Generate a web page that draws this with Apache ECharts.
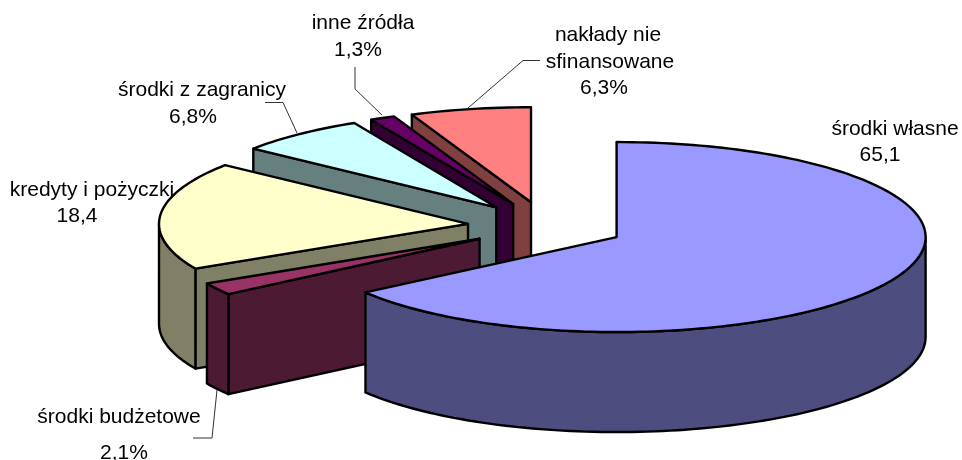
<!DOCTYPE html>
<html lang="pl">

<head>
  <meta charset="UTF-8">
  <title>Struktura finansowania</title>
  <script src="https://cdn.jsdelivr.net/npm/echarts@6/dist/echarts.min.js"></script>
  <style>
    html, body { margin: 0; background: #fff; }
    #chart { width: 962px; height: 460px; }
  </style>
</head>

<body>
  <div id="chart"></div>
  <script>
    // clockwise from 12 o'clock
    const categories = ['środki własne', 'środki budżetowe', 'kredyty i pożyczki', 'środki z zagranicy', 'inne źródła', 'nakłady nie sfinansowane']
    const values = [65.1, 2.1, 18.4, 6.8, 1.3, 6.3]
    const valueLabels = ['65,1', '2,1%', '18,4', '6,8%', '1,3%', '6,3%']
    const topColors = ['#9999FF', '#993366', '#FFFFCC', '#CCFFFF', '#660066', '#FF8080']
    const sideColors = ['#4D4D80', '#4D1A33', '#808066', '#668080', '#330033', '#804040']

    // pie geometry in pixels
    const CX = 546.5, CY = 226, RX = 309, RY = 95, DEPTH = 100, EXPLODE = 0.255

    // label text blocks and leader lines, same order as categories
    const labelLayout = [
      { lines: [[895, 129, categories[0]], [880, 155, valueLabels[0]]] },
      { lines: [[119, 417, categories[1]], [124, 453, valueLabels[1]]], leader: [[193, 438], [212, 438], [217, 390]] },
      { lines: [[92, 190, categories[2]], [77, 216, valueLabels[2]]] },
      { lines: [[202, 90, categories[3]], [193, 117, valueLabels[3]]], leader: [[265, 102.5], [283, 102.5], [297, 133]] },
      { lines: [[363, 23, categories[4]], [358, 50, valueLabels[4]]], leader: [[355, 67], [355, 89], [382, 115]] },
      { lines: [[608, 35, 'nakłady nie'], [610, 62, 'sfinansowane'], [604, 88, valueLabels[5]]], leader: [[540, 60.5], [523, 60.5], [468, 108]] }
    ]

    const total = values.reduce((a, b) => a + b, 0)
    const starts = []
    values.reduce((sum, v, i) => { starts[i] = sum; return sum + v }, 0)
    const toAngle = v => v / total * Math.PI * 2

    function ringPoint(c, a, dy) {
      return [c[0] + RX * Math.sin(a), c[1] - RY * Math.cos(a) + (dy || 0)]
    }

    function arcPoints(c, a0, a1, dy) {
      const n = Math.max(2, Math.ceil((a1 - a0) * 40))
      const pts = []
      for (let k = 0; k <= n; k++) pts.push(ringPoint(c, a0 + (a1 - a0) * k / n, dy))
      return pts
    }

    function poly(points, fill) {
      return {
        type: 'polygon',
        shape: { points },
        style: { fill, stroke: '#000', lineWidth: 2.4, lineJoin: 'round' }
      }
    }

    function renderSlice(params, api) {
      const i = api.value(0)
      const a0 = toAngle(starts[i])
      const a1 = toAngle(starts[i] + values[i])
      const mid = (a0 + a1) / 2
      // every slice is pushed out along its own mid angle
      const c = [CX + RX * EXPLODE * Math.sin(mid), CY - RY * EXPLODE * Math.cos(mid)]
      const children = []
      const side = sideColors[i]

      // cut face seen from the front
      if (Math.sin(a0) < 0) {
        const p = ringPoint(c, a0)
        children.push(poly([c, p, [p[0], p[1] + DEPTH], [c[0], c[1] + DEPTH]], side))
      }
      if (Math.sin(a1) > 0) {
        const p = ringPoint(c, a1)
        children.push(poly([c, p, [p[0], p[1] + DEPTH], [c[0], c[1] + DEPTH]], side))
      }
      // outer wall, front half of the ellipse only
      const w0 = Math.max(a0, Math.PI / 2)
      const w1 = Math.min(a1, Math.PI * 1.5)
      if (w1 > w0) {
        children.push(poly(arcPoints(c, w0, w1, 0).concat(arcPoints(c, w0, w1, DEPTH).reverse()), side))
      }
      // top
      children.push(poly([c].concat(arcPoints(c, a0, a1, 0)), topColors[i]))
      return { type: 'group', children }
    }

    function renderLabel(params, api) {
      const item = labelLayout[api.value(0)]
      const children = []
      if (item.leader) {
        children.push({
          type: 'polyline',
          shape: { points: item.leader },
          style: { fill: 'none', stroke: '#333', lineWidth: 1 }
        })
      }
      item.lines.forEach(l => {
        children.push({
          type: 'text',
          style: {
            x: l[0], y: l[1], text: l[2], fill: '#000',
            font: '21px "Liberation Sans", Arial, sans-serif',
            align: 'center', verticalAlign: 'middle'
          }
        })
      })
      return { type: 'group', children }
    }

    const myEcharts = echarts.init(document.getElementById('chart'))

    // painted back to front: last slice first
    const sliceData = values.map((v, i) => ({ name: categories[i], value: [i, v] })).reverse()

    myEcharts.setOption({
      animation: false,
      backgroundColor: '#fff',
      series: [
        { type: 'custom', coordinateSystem: 'none', renderItem: renderSlice, data: sliceData, silent: true, z: 2 },
        { type: 'custom', coordinateSystem: 'none', renderItem: renderLabel, data: sliceData, silent: true, z: 3 }
      ]
    })
  </script>
</body>

</html>
